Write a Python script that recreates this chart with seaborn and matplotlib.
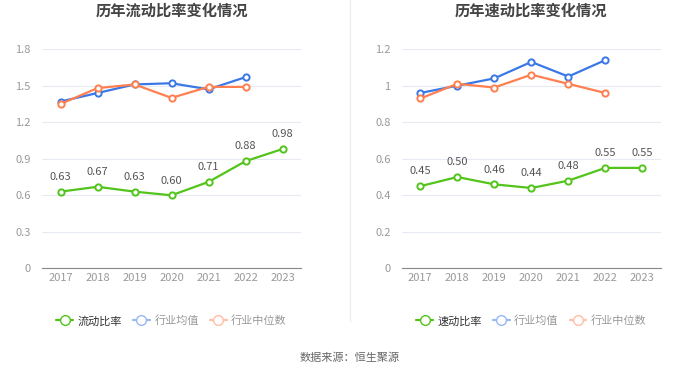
import pandas as pd
import seaborn as sns
import matplotlib.pyplot as plt
from matplotlib.lines import Line2D

# chart data
years = ["2017", "2018", "2019", "2020", "2021", "2022", "2023"]
current_ratio = [0.63, 0.67, 0.63, 0.60, 0.71, 0.88, 0.98]
current_mean = [1.37, 1.44, 1.51, 1.52, 1.47, 1.57]
current_median = [1.35, 1.48, 1.51, 1.40, 1.49, 1.49]
quick_ratio = [0.45, 0.50, 0.46, 0.44, 0.48, 0.55, 0.55]
quick_mean = [0.96, 1.00, 1.04, 1.13, 1.05, 1.14]
quick_median = [0.93, 1.01, 0.99, 1.06, 1.01, 0.96]

green = "#52c41a"
blue = "#3b78e7"
orange = "#ff7f50"

sns.set_style("white")
plt.rcParams['font.family'] = ['Noto Sans CJK SC', 'DejaVu Sans']


def draw_panel(ax, title, name, main, mean, median, yticks, ylabels, ymax):
  df = pd.DataFrame({
    "year": years[:len(mean)] * 2,
    "value": mean + median,
    "series": ["行业均值"] * len(mean) + ["行业中位数"] * len(median),
  })
  for s, c in [("行业均值", blue), ("行业中位数", orange)]:
    sub = df[df["series"] == s]
    sns.lineplot(data=sub, x="year", y="value", ax=ax, color=c, lw=1.6,
                 marker="o", markersize=4.5, markerfacecolor="white",
                 markeredgecolor=c, markeredgewidth=1.4, sort=False)
  main_df = pd.DataFrame({"year": years, "value": main})
  sns.lineplot(data=main_df, x="year", y="value", ax=ax, color=green, lw=1.6,
               marker="o", markersize=4.5, markerfacecolor="white",
               markeredgecolor=green, markeredgewidth=1.4, sort=False)
  for i, v in enumerate(main):
    ax.annotate(f"{v:.2f}", (i, v), xytext=(0, 7), textcoords="offset points",
                ha="center", va="bottom", fontsize=8, color="#555555")

  ax.set_ylim(0, ymax)
  ax.set_xlim(-0.5, len(years) - 0.5)
  ax.set_yticks(yticks)
  ax.set_yticklabels(ylabels)
  ax.grid(axis="y", color="#e6ebf3", lw=0.8)
  ax.set_axisbelow(True)
  for sp in ["top", "right", "left"]:
    ax.spines[sp].set_visible(False)
  ax.spines["bottom"].set_color("#888888")
  ax.tick_params(axis="y", labelsize=8, colors="#999999", length=0, pad=8)
  ax.tick_params(axis="x", labelsize=8, colors="#999999", length=0, pad=3)
  ax.set_xlabel("")
  ax.set_ylabel("")
  ax.set_title(title, fontsize=11, fontweight="bold", color="#444444", pad=24)

  handles = [
    Line2D([], [], color=green, marker="o", markerfacecolor="white", lw=1.6, markersize=7),
    Line2D([], [], color="#9ab8f3", marker="o", markerfacecolor="white", lw=1.6, markersize=7),
    Line2D([], [], color="#ffbfa8", marker="o", markerfacecolor="white", lw=1.6, markersize=7),
  ]
  leg = ax.legend(handles, [name, "行业均值", "行业中位数"], loc="upper center",
                  bbox_to_anchor=(0.5, -0.17), ncol=3, frameon=False, fontsize=8,
                  handlelength=1.5, handletextpad=0.4, columnspacing=1.0)
  for t, c in zip(leg.get_texts(), ["#333333", "#999999", "#999999"]):
    t.set_color(c)


fig = plt.figure(figsize=(7, 3.78), dpi=100)
ax1 = fig.add_axes([0.06, 0.29, 0.37, 0.58])
ax2 = fig.add_axes([0.574, 0.29, 0.37, 0.58])

draw_panel(ax1, "历年流动比率变化情况", "流动比率", current_ratio, current_mean, current_median,
           [0, 0.3, 0.6, 0.9, 1.2, 1.5, 1.8], ["0", "0.3", "0.6", "0.9", "1.2", "1.5", "1.8"], 1.8)
draw_panel(ax2, "历年速动比率变化情况", "速动比率", quick_ratio, quick_mean, quick_median,
           [0, 0.2, 0.4, 0.6, 0.8, 1.0, 1.2], ["0", "0.2", "0.4", "0.6", "0.8", "1", "1.2"], 1.2)

fig.add_artist(Line2D([0.5, 0.5], [0.15, 1.0], color="#eeeeee", lw=1, transform=fig.transFigure))
fig.text(0.5, 0.045, "数据来源：恒生聚源", ha="center", fontsize=8, color="#666666")

plt.savefig("out.png", dpi=100)
